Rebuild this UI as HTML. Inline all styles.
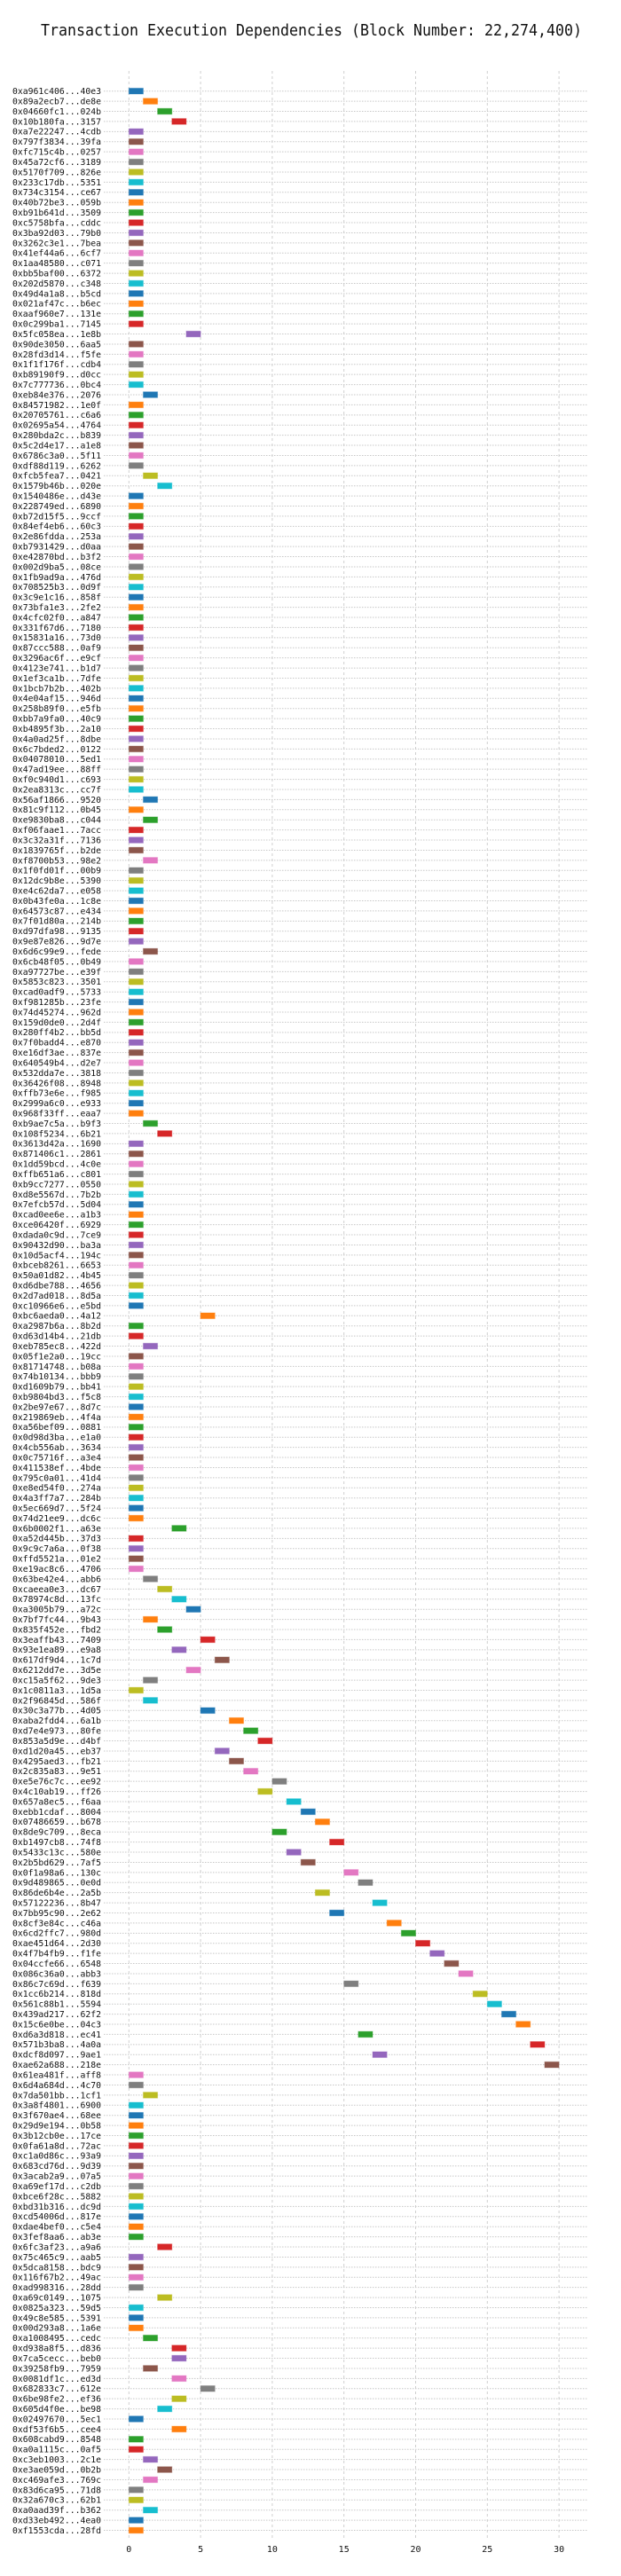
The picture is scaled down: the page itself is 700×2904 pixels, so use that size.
<!DOCTYPE html>
<html>
<head>
<meta charset="utf-8">
<style>
  html,body{margin:0;padding:0;background:#fff;}
  body{width:700px;height:2904px;overflow:hidden;}
  svg{display:block;}
  text{font-family:"DejaVu Sans Mono","Liberation Mono",monospace;fill:#111;}
</style>
</head>
<body>
<svg id="chart" width="700" height="2904" viewBox="0 0 700 2904" xmlns="http://www.w3.org/2000/svg">
  <text x="46" y="40" font-size="18" textLength="610" lengthAdjust="spacingAndGlyphs">Transaction Execution Dependencies (Block Number: 22,274,400)</text>
  <g id="grid"></g>
  <g id="bars"></g>
  <g id="ylabels"></g>
  <g id="xticks"></g>
</svg>
<script>
const txLabels = [
"0xa961c406...40e3","0x89a2ecb7...de8e","0x04660fc1...024b","0x10b180fa...3157","0xa7e22247...4cdb","0x797f3834...39fa","0xfc715c4b...0257","0x45a72cf6...3189","0x5170f709...826e","0x233c17db...5351",
"0x734c3154...ce67","0x40b72be3...059b","0xb91b641d...3509","0xc5758bfa...cddc","0x3ba92d03...79b0","0x3262c3e1...7bea","0x41ef44a6...6cf7","0x1aa48580...c071","0xbb5baf00...6372","0x202d5870...c348",
"0x49d4a1a8...b5cd","0x021af47c...b6ec","0xaaf960e7...131e","0x0c299ba1...7145","0x5fc058ea...1e8b","0x90de3050...6aa5","0x28fd3d14...f5fe","0x1f1f176f...cdb4","0xb89190f9...d0cc","0x7c777736...0bc4",
"0xeb84e376...2076","0x84571982...1e0f","0x20705761...c6a6","0x02695a54...4764","0x280bda2c...b839","0x5c2d4e17...a1e8","0x6786c3a0...5f11","0xdf88d119...6262","0xfcb5fea7...0421","0x1579b46b...020e",
"0x1540486e...d43e","0x228749ed...6890","0xb72d15f5...9ccf","0x84ef4eb6...60c3","0x2e86fdda...253a","0xb7931429...d0aa","0xe42870bd...b3f2","0x002d9ba5...08ce","0x1fb9ad9a...476d","0x708525b3...0d9f",
"0x3c9e1c16...858f","0x73bfa1e3...2fe2","0x4cfc02f0...a847","0x331f67d6...7180","0x15831a16...73d0","0x87ccc588...0af9","0x3296ac6f...e9cf","0x4123e741...b1d7","0x1ef3ca1b...7dfe","0x1bcb7b2b...402b",
"0x4e04af15...946d","0x258b89f0...e5fb","0xbb7a9fa0...40c9","0xb4895f3b...2a10","0x4a0ad25f...8dbe","0x6c7bded2...0122","0x04078010...5ed1","0x47ad19ee...88ff","0xf0c940d1...c693","0x2ea8313c...cc7f",
"0x56af1866...9520","0x81c9f112...0b45","0xe9830ba8...c044","0xf06faae1...7acc","0x3c32a31f...7136","0x1839765f...b2de","0xf8700b53...98e2","0x1f0fd01f...00b9","0x12dc9b8e...5390","0xe4c62da7...e058",
"0x0b43fe0a...1c8e","0x64573c87...e434","0x7f01d80a...214b","0xd97dfa98...9135","0x9e87e826...9d7e","0x6d6c99e9...fede","0x6cb48f05...0b49","0xa97727be...e39f","0x5853c823...3501","0xcad0adf9...5733",
"0xf981285b...23fe","0x74d45274...962d","0x159d0de0...2d4f","0x280ff4b2...bb5d","0x7f0badd4...e870","0xe16df3ae...837e","0x640549b4...d2e7","0x532dda7e...3818","0x36426f08...8948","0xffb73e6e...f985",
"0x2999a6c0...e933","0x968f33ff...eaa7","0xb9ae7c5a...b9f3","0x108f5234...6b21","0x3613d42a...1690","0x871406c1...2861","0x1dd59bcd...4c0e","0xffb651a6...c801","0xb9cc7277...0550","0xd8e5567d...7b2b",
"0x7efcb57d...5d04","0xcad0ee6e...a1b3","0xce06420f...6929","0xdada0c9d...7ce9","0x90432d90...ba3a","0x10d5acf4...194c","0xbceb8261...6653","0x50a01d82...4b45","0xd6dbe788...4656","0x2d7ad018...8d5a",
"0xc10966e6...e5bd","0xbc6aeda0...4a12","0xa2987b6a...8b2d","0xd63d14b4...21db","0xeb785ec8...422d","0x05f1e2a0...19cc","0x81714748...b08a","0x74b10134...bbb9","0xd1609b79...bb41","0xb9804bd3...f5c8",
"0x2be97e67...8d7c","0x219869eb...4f4a","0xa56bef09...0881","0x0d98d3ba...e1a0","0x4cb556ab...3634","0x0c75716f...a3e4","0x411538ef...4bde","0x795c0a01...41d4","0xe8ed54f0...274a","0x4a3ff7a7...284b",
"0x5ec669d7...5f24","0x74d21ee9...dc6c","0x6b0002f1...a63e","0xa52d445b...37d3","0x9c9c7a6a...0f38","0xffd5521a...01e2","0xe19ac8c6...4706","0x63be42e4...abb6","0xcaeea0e3...dc67","0x78974c8d...13fc",
"0xa3005b79...a72c","0x7bf7fc44...9b43","0x835f452e...fbd2","0x3eaffb43...7409","0x93e1ea89...e9a8","0x617df9d4...1c7d","0x6212dd7e...3d5e","0xc15a5f62...9de3","0x1c0811a3...1d5a","0x2f96845d...586f",
"0x30c3a77b...4d05","0xaba2fdd4...6a1b","0xd7e4e973...80fe","0x853a5d9e...d4bf","0xd1d20a45...eb37","0x4295aed3...fb21","0x2c835a83...9e51","0xe5e76c7c...ee92","0x4c10ab19...ff26","0x657a8ec5...f6aa",
"0xebb1cdaf...8004","0x07486659...b678","0x8de9c709...8eca","0xb1497cb8...74f8","0x5433c13c...580e","0x2b5bd629...7af5","0x0f1a98a6...130c","0x9d489865...0e0d","0x86de6b4e...2a5b","0x57122236...8b47",
"0x7bb95c90...2e62","0x8cf3e84c...c46a","0x6cd2ffc7...980d","0xae451d64...2d30","0x4f7b4fb9...f1fe","0x04ccfe66...6548","0x086c36a0...abb3","0x86c7c69d...f639","0x1cc6b214...818d","0x561c88b1...5594",
"0x439ad217...62f2","0x15c6e0be...04c3","0xd6a3d818...ec41","0x571b3ba8...4a0a","0xdcf8d097...9ae1","0xae62a688...218e","0x61ea481f...aff8","0x6d4a684d...4c70","0x7da501bb...1cf1","0x3a8f4801...6900",
"0x3f670ae4...68ee","0x29d9e194...0b58","0x3b12cb0e...17ce","0x0fa61a8d...72ac","0xc1a0d86c...93a9","0x683cd76d...9d39","0x3acab2a9...07a5","0xa69ef17d...c2db","0xbce6f28c...5882","0xbd31b316...dc9d",
"0xcd54006d...817e","0xdae4bef0...c5e4","0x3fef8aa6...ab3e","0x6fc3af23...a9a6","0x75c465c9...aab5","0x5dca8158...bdc9","0x116f67b2...49ac","0xad998316...28dd","0xa69c0149...1075","0x0825a323...59d5",
"0x49c8e585...5391","0x00d293a8...1a6e","0xa1008495...cedc","0xd938a8f5...d836","0x7ca5cecc...beb0","0x39258fb9...7959","0x0081df1c...ed3d","0x682833c7...612e","0x6be98fe2...ef36","0x605d4f0e...be98",
"0x02497670...5ec1","0xdf53f6b5...cee4","0x608cabd9...8548","0xa0a1115c...0af5","0xc3eb1003...2c1e","0xe3ae059d...0b2b","0xc469afe3...769c","0x83d6ca95...71d8","0x32a670c3...62b1","0xa0aad39f...b362",
"0xd33eb492...4ea0","0xf1553cda...28fd"
];
const startTimes = [
0,1,2,3,0,0,0,0,0,0,
0,0,0,0,0,0,0,0,0,0,
0,0,0,0,4,0,0,0,0,0,
1,0,0,0,0,0,0,0,1,2,
0,0,0,0,0,0,0,0,0,0,
0,0,0,0,0,0,0,0,0,0,
0,0,0,0,0,0,0,0,0,0,
1,0,1,0,0,0,1,0,0,0,
0,0,0,0,0,1,0,0,0,0,
0,0,0,0,0,0,0,0,0,0,
0,0,1,2,0,0,0,0,0,0,
0,0,0,0,0,0,0,0,0,0,
0,5,0,0,1,0,0,0,0,0,
0,0,0,0,0,0,0,0,0,0,
0,0,3,0,0,0,0,1,2,3,
4,1,2,5,3,6,4,1,0,1,
5,7,8,9,6,7,8,10,9,11,
12,13,10,14,11,12,15,16,13,17,
14,18,19,20,21,22,23,15,24,25,
26,27,16,28,17,29,0,0,1,0,
0,0,0,0,0,0,0,0,0,0,
0,0,0,2,0,0,0,0,2,0,
0,0,1,3,3,1,3,5,3,2,
0,3,0,0,1,2,1,0,0,1,
0,0
];
const durations = startTimes.map(function(){ return 1; });
const xTicks = [0,5,10,15,20,25,30];
const palette = ["#1f77b4","#ff7f0e","#2ca02c","#d62728","#9467bd","#8c564b","#e377c2","#7f7f7f","#bcbd22","#17becf"];

const NS = "http://www.w3.org/2000/svg";
const X0 = 145.3, PXU = 16.16;
const Y0 = 102.7, ROWH = 11.41;
const AX_L = 117, AX_R = 662, AX_T = 80, AX_B = 2864;
function xScale(v){ return X0 + v * PXU; }
function yScale(i){ return Y0 + i * ROWH; }

const grid = document.getElementById('grid');
const bars = document.getElementById('bars');
const ylabels = document.getElementById('ylabels');
const xticks = document.getElementById('xticks');

xTicks.forEach(function(t){
  const l = document.createElementNS(NS,'line');
  
  
  l.setAttribute('x1', xScale(t)); l.setAttribute('x2', xScale(t));
  l.setAttribute('y1', AX_T); l.setAttribute('y2', AX_B);
  l.setAttribute('stroke', '#cfcfcf'); l.setAttribute('stroke-width', '1');
  l.setAttribute('stroke-dasharray', '3,3');
  grid.appendChild(l);
  const tx = document.createElementNS(NS,'text');
  
  
  tx.setAttribute('x', xScale(t)); tx.setAttribute('y', AX_B + 13);
  tx.setAttribute('font-size', '10'); tx.setAttribute('text-anchor', 'middle');
  tx.textContent = String(t);
  xticks.appendChild(tx);
});

txLabels.forEach(function(lab, i){
  const y = yScale(i);
  const hl = document.createElementNS(NS,'line');
  
  
  hl.setAttribute('x1', AX_L); hl.setAttribute('x2', AX_R);
  hl.setAttribute('y1', y); hl.setAttribute('y2', y);
  hl.setAttribute('stroke', '#c8c8c8'); hl.setAttribute('stroke-width', '1');
  hl.setAttribute('stroke-dasharray', '1.5,1.5');
  grid.appendChild(hl);

  const tl = document.createElementNS(NS,'text');
  
  
  tl.setAttribute('x', 14); tl.setAttribute('y', y + 3.4);
  tl.setAttribute('font-size', '10');
  tl.setAttribute('textLength', '100');
  tl.setAttribute('lengthAdjust', 'spacingAndGlyphs');
  tl.textContent = lab;
  ylabels.appendChild(tl);

  const r = document.createElementNS(NS,'rect');
  
  
  r.setAttribute('x', xScale(startTimes[i]));
  r.setAttribute('y', y - 3.3);
  r.setAttribute('width', durations[i] * PXU);
  r.setAttribute('height', 6.6);
  r.setAttribute('fill', palette[i % 10]);
  r.setAttribute('stroke', palette[i % 10]);
  r.setAttribute('stroke-opacity', '0.35');
  r.setAttribute('stroke-width', '1');
  bars.appendChild(r);
});
</script>
</body>
</html>
